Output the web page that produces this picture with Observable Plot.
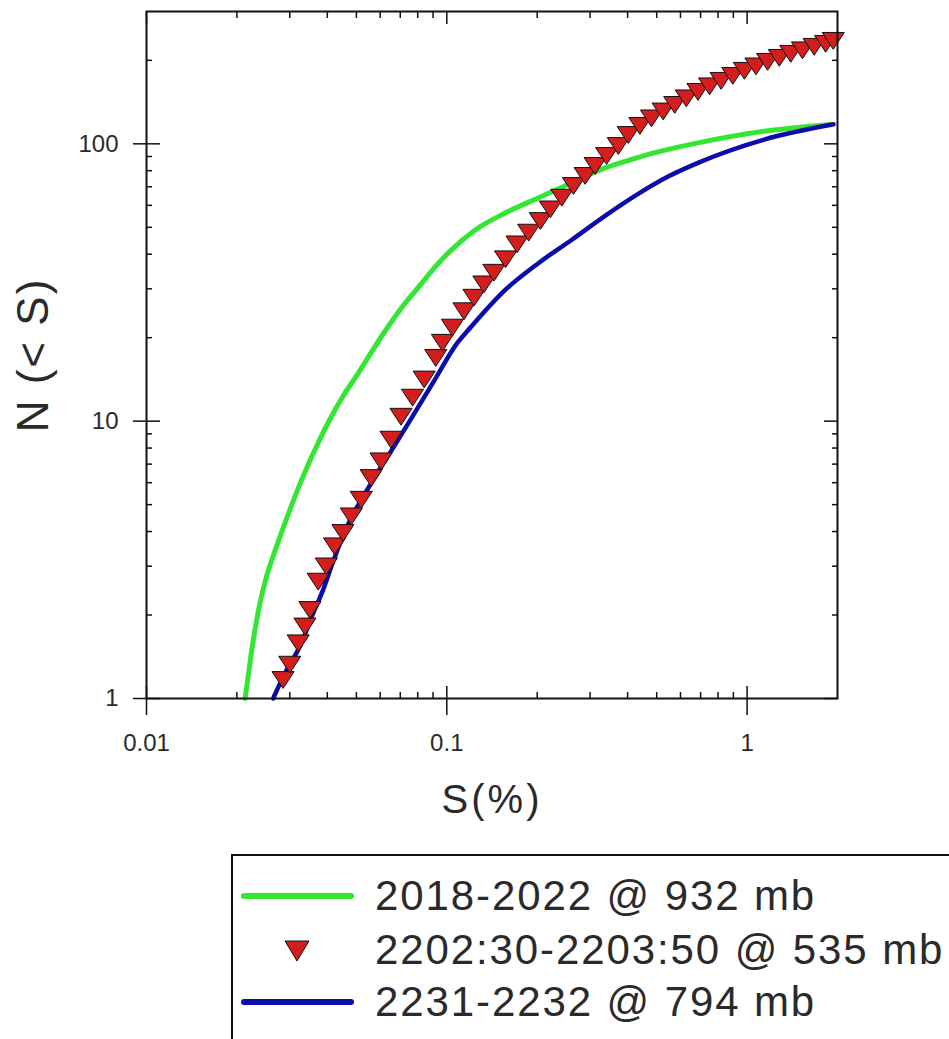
<!DOCTYPE html>
<html>
<head>
<meta charset="utf-8">
<script src="https://cdn.jsdelivr.net/npm/d3@7"></script>
<script src="https://cdn.jsdelivr.net/npm/@observablehq/plot@0.6"></script>
<style>
  html, body { margin: 0; padding: 0; background: #fff; width: 949px; height: 1039px; overflow: hidden;
    font-family: "Liberation Sans", Arial, sans-serif; }
  #chart { position: absolute; left: 0; top: 0; }
  #legend { position: absolute; left: 231px; top: 854px; width: 760px; height: 240px;
    border: 2px solid #111; box-sizing: border-box; background: #fff; }
  .lg-swatch { position: absolute; }
  .lg-text { position: absolute; left: 375px; font-size: 42px; line-height: 42px; letter-spacing: 1.9px;
    color: #2a2a2a; white-space: nowrap; }
</style>
</head>
<body>
<div id="chart"></div>
<div id="legend"></div>
<div id="legend-items"></div>
<script>
// ---- data ----
const greenS = [0.0213, 0.0218, 0.0224, 0.0236, 0.0251, 0.0271, 0.0300, 0.0332, 0.0368, 0.0407, 0.0451, 0.0499, 0.0553, 0.0628, 0.0712, 0.0809, 0.0919, 0.1018, 0.1230, 0.1569, 0.2023, 0.2609, 0.3365, 0.4120, 0.5053, 0.686, 1.14, 1.90];
const greenN = [1, 1.2, 1.49, 2.08, 2.75, 3.53, 4.78, 6.31, 8.10, 10.1, 12.3, 14.5, 17.3, 21.4, 25.9, 30.6, 36.2, 40.7, 48.5, 56.4, 63.9, 72.4, 81.9, 87.8, 93.5, 100.8, 111, 117.5];

const blueS = [0.0264, 0.0293, 0.0324, 0.0359, 0.0387, 0.0418, 0.0463, 0.0553, 0.0678, 0.0769, 0.0919, 0.1071, 0.1201, 0.1569, 0.2023, 0.2609, 0.3365, 0.4339, 0.5456, 0.686, 1.14, 1.94];
const blueN = [1, 1.27, 1.54, 2.03, 2.46, 3.11, 4.12, 5.84, 8.33, 10.4, 14.3, 18.8, 21.8, 29.8, 37.2, 45.1, 55.0, 66.0, 76.2, 85.4, 103.6, 117.6];

const redS = [0.0285, 0.0300, 0.0320, 0.0337, 0.0350, 0.0373, 0.0397, 0.0423, 0.0451, 0.0481, 0.0519, 0.0560, 0.0604, 0.0652, 0.0704, 0.0769, 0.0841, 0.0919, 0.0967, 0.1044, 0.1141, 0.1232, 0.1329, 0.1435, 0.1569, 0.1714, 0.1874, 0.2049, 0.2212, 0.2416, 0.2642, 0.2889, 0.3118, 0.3406, 0.3725, 0.4021, 0.4395, 0.4803, 0.5253, 0.5741, 0.6273, 0.6861, 0.7499, 0.8195, 0.8960, 0.9795, 1.070, 1.170, 1.280, 1.398, 1.529, 1.672, 1.826, 1.936];
const redN = [1.18, 1.34, 1.60, 1.84, 2.11, 2.67, 3.03, 3.58, 4.00, 4.59, 5.27, 6.31, 7.25, 8.68, 10.5, 12.3, 14.3, 17.1, 19.4, 22.0, 25.2, 28.2, 31.5, 34.7, 38.8, 43.9, 48.4, 53.3, 58.7, 64.7, 71.3, 77.5, 84.2, 91.5, 99.4, 108.9, 117.4, 125.0, 132.4, 139.8, 147.6, 155.7, 163.1, 170.7, 177.9, 185.5, 192.5, 199.8, 206.6, 213.6, 219.9, 226.4, 232.1, 237.9];

const xMajor = [0.01, 0.1, 1];
const xMinor = [0.02, 0.03, 0.04, 0.05, 0.06, 0.07, 0.08, 0.09, 0.2, 0.3, 0.4, 0.5, 0.6, 0.7, 0.8, 0.9];
const yMajor = [1, 10, 100];
const yMinor = [2, 3, 4, 5, 6, 7, 8, 9, 20, 30, 40, 50, 60, 70, 80, 90, 200];
const xDomain = [0.01, 2];
const yDomain = [1, 300];

const xTitle = "S(%)";
const yTitle = "N (< S)";
const seriesNames = ["2018-2022 @ 932 mb", "2202:30-2203:50 @ 535 mb", "2231-2232 @ 794 mb"];
const GREEN = "#33e633", RED = "#d41e1e", BLUE = "#0c0caa", INK = "#111";

const rows = (xs, ys) => xs.map((s, i) => ({S: s, N: ys[i]}));
const green = rows(greenS, greenN);
const blue = rows(blueS, blueN);
const red = rows(redS, redN);
const none = () => "";

// wide, downward-pointing triangle marker (as in the reference)
const downTriangle = {
  draw(context, size) {
    const r = Math.sqrt(size / Math.PI);
    const w = r * 1.35, top = -r * 0.85, tip = r * 1.2;
    context.moveTo(-w, top);
    context.lineTo(w, top);
    context.lineTo(0, tip);
    context.closePath();
  }
};

const chart = Plot.plot({
  width: 949,
  height: 840,
  marginLeft: 146,
  marginRight: 112,
  marginTop: 11,
  marginBottom: 142,
  style: {fontFamily: '"Liberation Sans", Arial, sans-serif', background: "#fff", color: "#222", overflow: "visible"},
  x: {type: "log", domain: xDomain},
  y: {type: "log", domain: yDomain},
  marks: [
    Plot.line(green, {x: "S", y: "N", stroke: GREEN, strokeWidth: 5, curve: "monotone-x"}),
    Plot.line(blue, {x: "S", y: "N", stroke: BLUE, strokeWidth: 4.5, curve: "monotone-x"}),
    Plot.dot(red, {x: "S", y: "N", symbol: downTriangle, r: 8.2, fill: RED, stroke: INK, strokeWidth: 1}),
    // bottom axis
    Plot.axisX({anchor: "bottom", ticks: xMajor, tickSize: 17, tickPadding: 18, fontSize: 24, label: null, tickFormat: d => String(d), color: "#2a2a2a", stroke: INK, strokeWidth: 1.5}),
    Plot.axisX({anchor: "bottom", ticks: xMajor, tickSize: -12, tickFormat: none, label: null, stroke: INK, strokeWidth: 1.5}),
    Plot.axisX({anchor: "bottom", ticks: xMinor, tickSize: -6, tickFormat: none, label: null, stroke: INK, strokeWidth: 1.5}),
    // top axis
    Plot.axisX({anchor: "top", ticks: xMajor, tickSize: -12, tickFormat: none, label: null, stroke: INK, strokeWidth: 1.5}),
    Plot.axisX({anchor: "top", ticks: xMinor, tickSize: -6, tickFormat: none, label: null, stroke: INK, strokeWidth: 1.5}),
    // left axis
    Plot.axisY({anchor: "left", ticks: yMajor, tickSize: 13, tickPadding: 15, fontSize: 24, label: null, tickFormat: d => String(d), color: "#2a2a2a", stroke: INK, strokeWidth: 1.5}),
    Plot.axisY({anchor: "left", ticks: yMajor, tickSize: -14, tickFormat: none, label: null, stroke: INK, strokeWidth: 1.5}),
    Plot.axisY({anchor: "left", ticks: yMinor, tickSize: -6, tickFormat: none, label: null, stroke: INK, strokeWidth: 1.5}),
    // right axis
    Plot.axisY({anchor: "right", ticks: yMajor, tickSize: -14, tickFormat: none, label: null, stroke: INK, strokeWidth: 1.5}),
    Plot.axisY({anchor: "right", ticks: yMinor, tickSize: -6, tickFormat: none, label: null, stroke: INK, strokeWidth: 1.5}),
    Plot.frame({stroke: INK, strokeWidth: 2}),
    Plot.text([xTitle], {frameAnchor: "bottom", dy: 102, fontSize: 40, fill: "#2a2a2a", textAnchor: "middle", lineAnchor: "middle"}),
    Plot.text([yTitle], {frameAnchor: "left", dx: -113, rotate: -90, fontSize: 44, fill: "#2a2a2a", textAnchor: "middle", lineAnchor: "middle"})
  ]
});
chart.querySelectorAll("text").forEach(t => {
  if (t.textContent === xTitle) t.style.letterSpacing = "3px";
  if (t.textContent === yTitle) t.style.letterSpacing = "2px";
});
document.getElementById("chart").appendChild(chart);

// ---- legend (below the plot) ----
const items = document.getElementById("legend-items");
const legendRows = [
  {name: seriesNames[0], kind: "line", color: GREEN, cy: 896},
  {name: seriesNames[1], kind: "tri", color: RED, cy: 950},
  {name: seriesNames[2], kind: "line", color: BLUE, cy: 1002}
];
const NS = "http://www.w3.org/2000/svg";
legendRows.forEach(r => {
  const svg = document.createElementNS(NS, "svg");
  svg.setAttribute("width", 120);
  svg.setAttribute("height", 30);
  svg.setAttribute("class", "lg-swatch");
  svg.style.left = "237px";
  svg.style.top = (r.cy - 15) + "px";
  if (r.kind === "line") {
    const l = document.createElementNS(NS, "line");
    l.setAttribute("x1", 7); l.setAttribute("x2", 114);
    l.setAttribute("y1", 15); l.setAttribute("y2", 15);
    l.setAttribute("stroke", r.color); l.setAttribute("stroke-width", 6);
    l.setAttribute("stroke-linecap", "round");
    svg.appendChild(l);
  } else {
    const p = document.createElementNS(NS, "polygon");
    p.setAttribute("points", "48,6 72,6 60,26");
    p.setAttribute("fill", r.color); p.setAttribute("stroke", INK); p.setAttribute("stroke-width", 1);
    svg.appendChild(p);
  }
  items.appendChild(svg);
  const d = document.createElement("div");
  d.className = "lg-text";
  d.style.top = (r.cy - 21) + "px";
  d.textContent = r.name;
  items.appendChild(d);
});
</script>
</body>
</html>
